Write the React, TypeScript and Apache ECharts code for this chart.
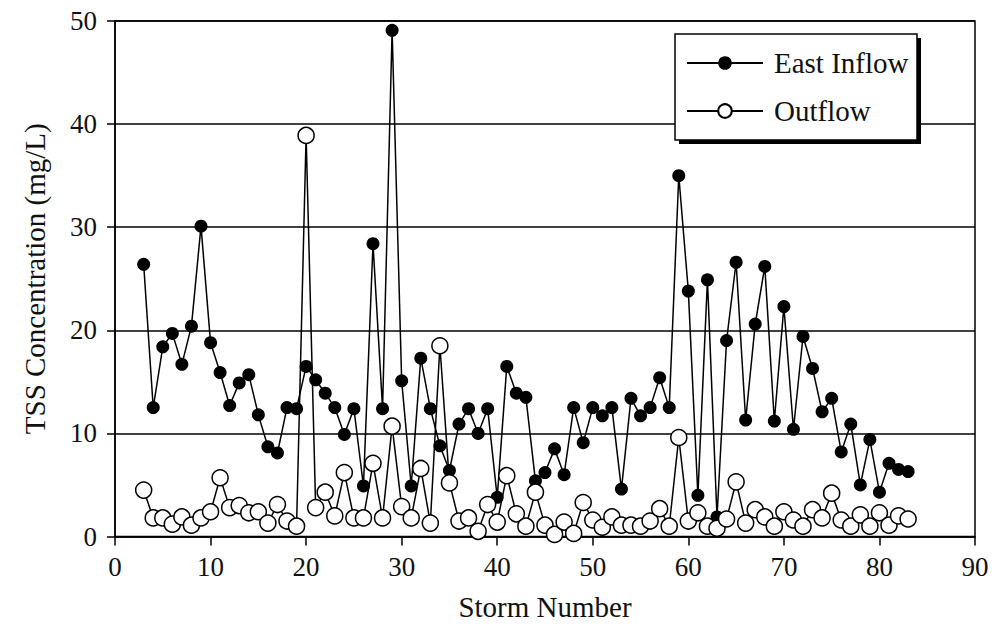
import React, { useEffect, useRef } from "react";
import * as echarts from "echarts";

const storms = [
  3, 4, 5, 6, 7, 8, 9, 10, 11, 12, 13, 14, 15, 16, 17, 18, 19, 20, 21, 22, 23,
  24, 25, 26, 27, 28, 29, 30, 31, 32, 33, 34, 35, 36, 37, 38, 39, 40, 41, 42, 43,
  44, 45, 46, 47, 48, 49, 50, 51, 52, 53, 54, 55, 56, 57, 58, 59, 60, 61, 62, 63,
  64, 65, 66, 67, 68, 69, 70, 71, 72, 73, 74, 75, 76, 77, 78, 79, 80, 81, 82, 83,
];

const eastInflow = [
  26.4, 12.5, 18.4, 19.7, 16.7, 20.4, 30.1, 18.8, 15.9, 12.7, 14.9, 15.7, 11.8, 8.7, 8.1, 12.5, 12.4, 16.5, 15.2, 13.9, 12.5,
  9.9, 12.4, 4.9, 28.4, 12.4, 49.1, 15.1, 4.9, 17.3, 12.4, 8.8, 6.4, 10.9, 12.4, 10.0, 12.4, 3.8, 16.5, 13.9, 13.5,
  5.4, 6.2, 8.5, 6.0, 12.5, 9.1, 12.5, 11.7, 12.5, 4.6, 13.4, 11.7, 12.5, 15.4, 12.5, 35.0, 23.8, 4.0, 24.9, 1.9,
  19.0, 26.6, 11.3, 20.6, 26.2, 11.2, 22.3, 10.4, 19.4, 16.3, 12.1, 13.4, 8.2, 10.9, 5.0, 9.4, 4.3, 7.1, 6.5, 6.3,
];

const outflow = [
  4.5, 1.8, 1.8, 1.2, 1.9, 1.1, 1.8, 2.4, 5.7, 2.8, 3.0, 2.3, 2.4, 1.3, 3.1, 1.5, 1.0, 38.9, 2.8, 4.3, 2.0,
  6.2, 1.8, 1.8, 7.1, 1.8, 10.7, 2.9, 1.8, 6.6, 1.3, 18.5, 5.2, 1.5, 1.8, 0.5, 3.1, 1.4, 5.9, 2.2, 1.0,
  4.3, 1.1, 0.2, 1.4, 0.3, 3.3, 1.6, 0.9, 1.9, 1.1, 1.1, 1.0, 1.5, 2.7, 1.0, 9.6, 1.5, 2.3, 1.0, 0.8,
  1.7, 5.3, 1.3, 2.6, 1.9, 1.0, 2.4, 1.6, 1.0, 2.6, 1.8, 4.2, 1.6, 1.0, 2.1, 1.0, 2.3, 1.1, 2.0, 1.7,
];

const seriesNames = ["East Inflow", "Outflow"];
const xTitle = "Storm Number";
const yTitle = "TSS Concentration (mg/L)";

const FONT = "'Liberation Serif', 'Times New Roman', serif";
const INK = "#111";

export default function App() {
  const ref = useRef<HTMLDivElement>(null);

  useEffect(() => {
    document.body.style.margin = "0";
    if (!ref.current) return;
    const chart = echarts.init(ref.current, undefined, { renderer: "svg" });
    const pairs = (vals: number[]) => storms.map((s, i) => [s, vals[i]]);

    chart.setOption({
      animation: false,
      backgroundColor: "#fff",
      grid: {
        left: 115,
        right: 20,
        top: 21,
        bottom: 92.5,
        show: true,
        borderColor: "#000",
        borderWidth: 1.5,
        backgroundColor: "transparent",
      },
      xAxis: {
        type: "value",
        min: 0,
        max: 90,
        interval: 10,
        name: xTitle,
        nameLocation: "middle",
        nameGap: 56,
        nameTextStyle: { fontFamily: FONT, fontSize: 29, color: INK },
        axisLine: { show: true, lineStyle: { color: "#000", width: 1.5 } },
        axisTick: { show: true, inside: false, length: 9, lineStyle: { color: "#000", width: 1.5 } },
        axisLabel: { fontFamily: FONT, fontSize: 27, color: INK, margin: 17 },
        splitLine: { show: false },
      },
      yAxis: {
        type: "value",
        min: 0,
        max: 50,
        interval: 10,
        name: yTitle,
        nameLocation: "middle",
        nameRotate: 90,
        nameGap: 66,
        nameTextStyle: { fontFamily: FONT, fontSize: 29, color: INK },
        axisLine: { show: true, lineStyle: { color: "#000", width: 1.5 } },
        axisTick: { show: true, inside: false, length: 8, lineStyle: { color: "#000", width: 1.5 } },
        axisLabel: { fontFamily: FONT, fontSize: 27, color: INK, margin: 18 },
        splitLine: { show: true, lineStyle: { color: "#000", width: 1.5 } },
      },
      graphic: [
        {
          type: "rect",
          z: 10,
          shape: { x: 679, y: 38, width: 242, height: 106 },
          style: { fill: "#000" },
        },
        {
          type: "rect",
          z: 11,
          shape: { x: 675, y: 34, width: 242, height: 106 },
          style: { fill: "#fff", stroke: "#000", lineWidth: 1.5 },
        },
      ],
      legend: {
        z: 20,
        left: 686,
        top: 48,
        orient: "vertical",
        padding: 0,
        itemWidth: 76,
        itemHeight: 17,
        itemGap: 18,
        data: seriesNames,
        textStyle: {
          fontFamily: FONT,
          fontSize: 29,
          lineHeight: 30,
          color: INK,
          padding: [0, 0, 0, 6],
        },
      },
      series: [
        {
          name: seriesNames[0],
          type: "line",
          z: 2,
          data: pairs(eastInflow),
          symbol: "circle",
          symbolSize: 13,
          itemStyle: { color: "#000", borderColor: "#000", borderWidth: 0 },
          lineStyle: { color: "#000", width: 1.5 },
        },
        {
          name: seriesNames[1],
          type: "line",
          z: 3,
          data: pairs(outflow),
          symbol: "circle",
          symbolSize: 16,
          itemStyle: { color: "#fff", borderColor: "#000", borderWidth: 1.5 },
          lineStyle: { color: "#000", width: 1.5 },
        },
      ],
    });

    return () => chart.dispose();
  }, []);

  return <div ref={ref} style={{ width: 995, height: 629 }} />;
}
